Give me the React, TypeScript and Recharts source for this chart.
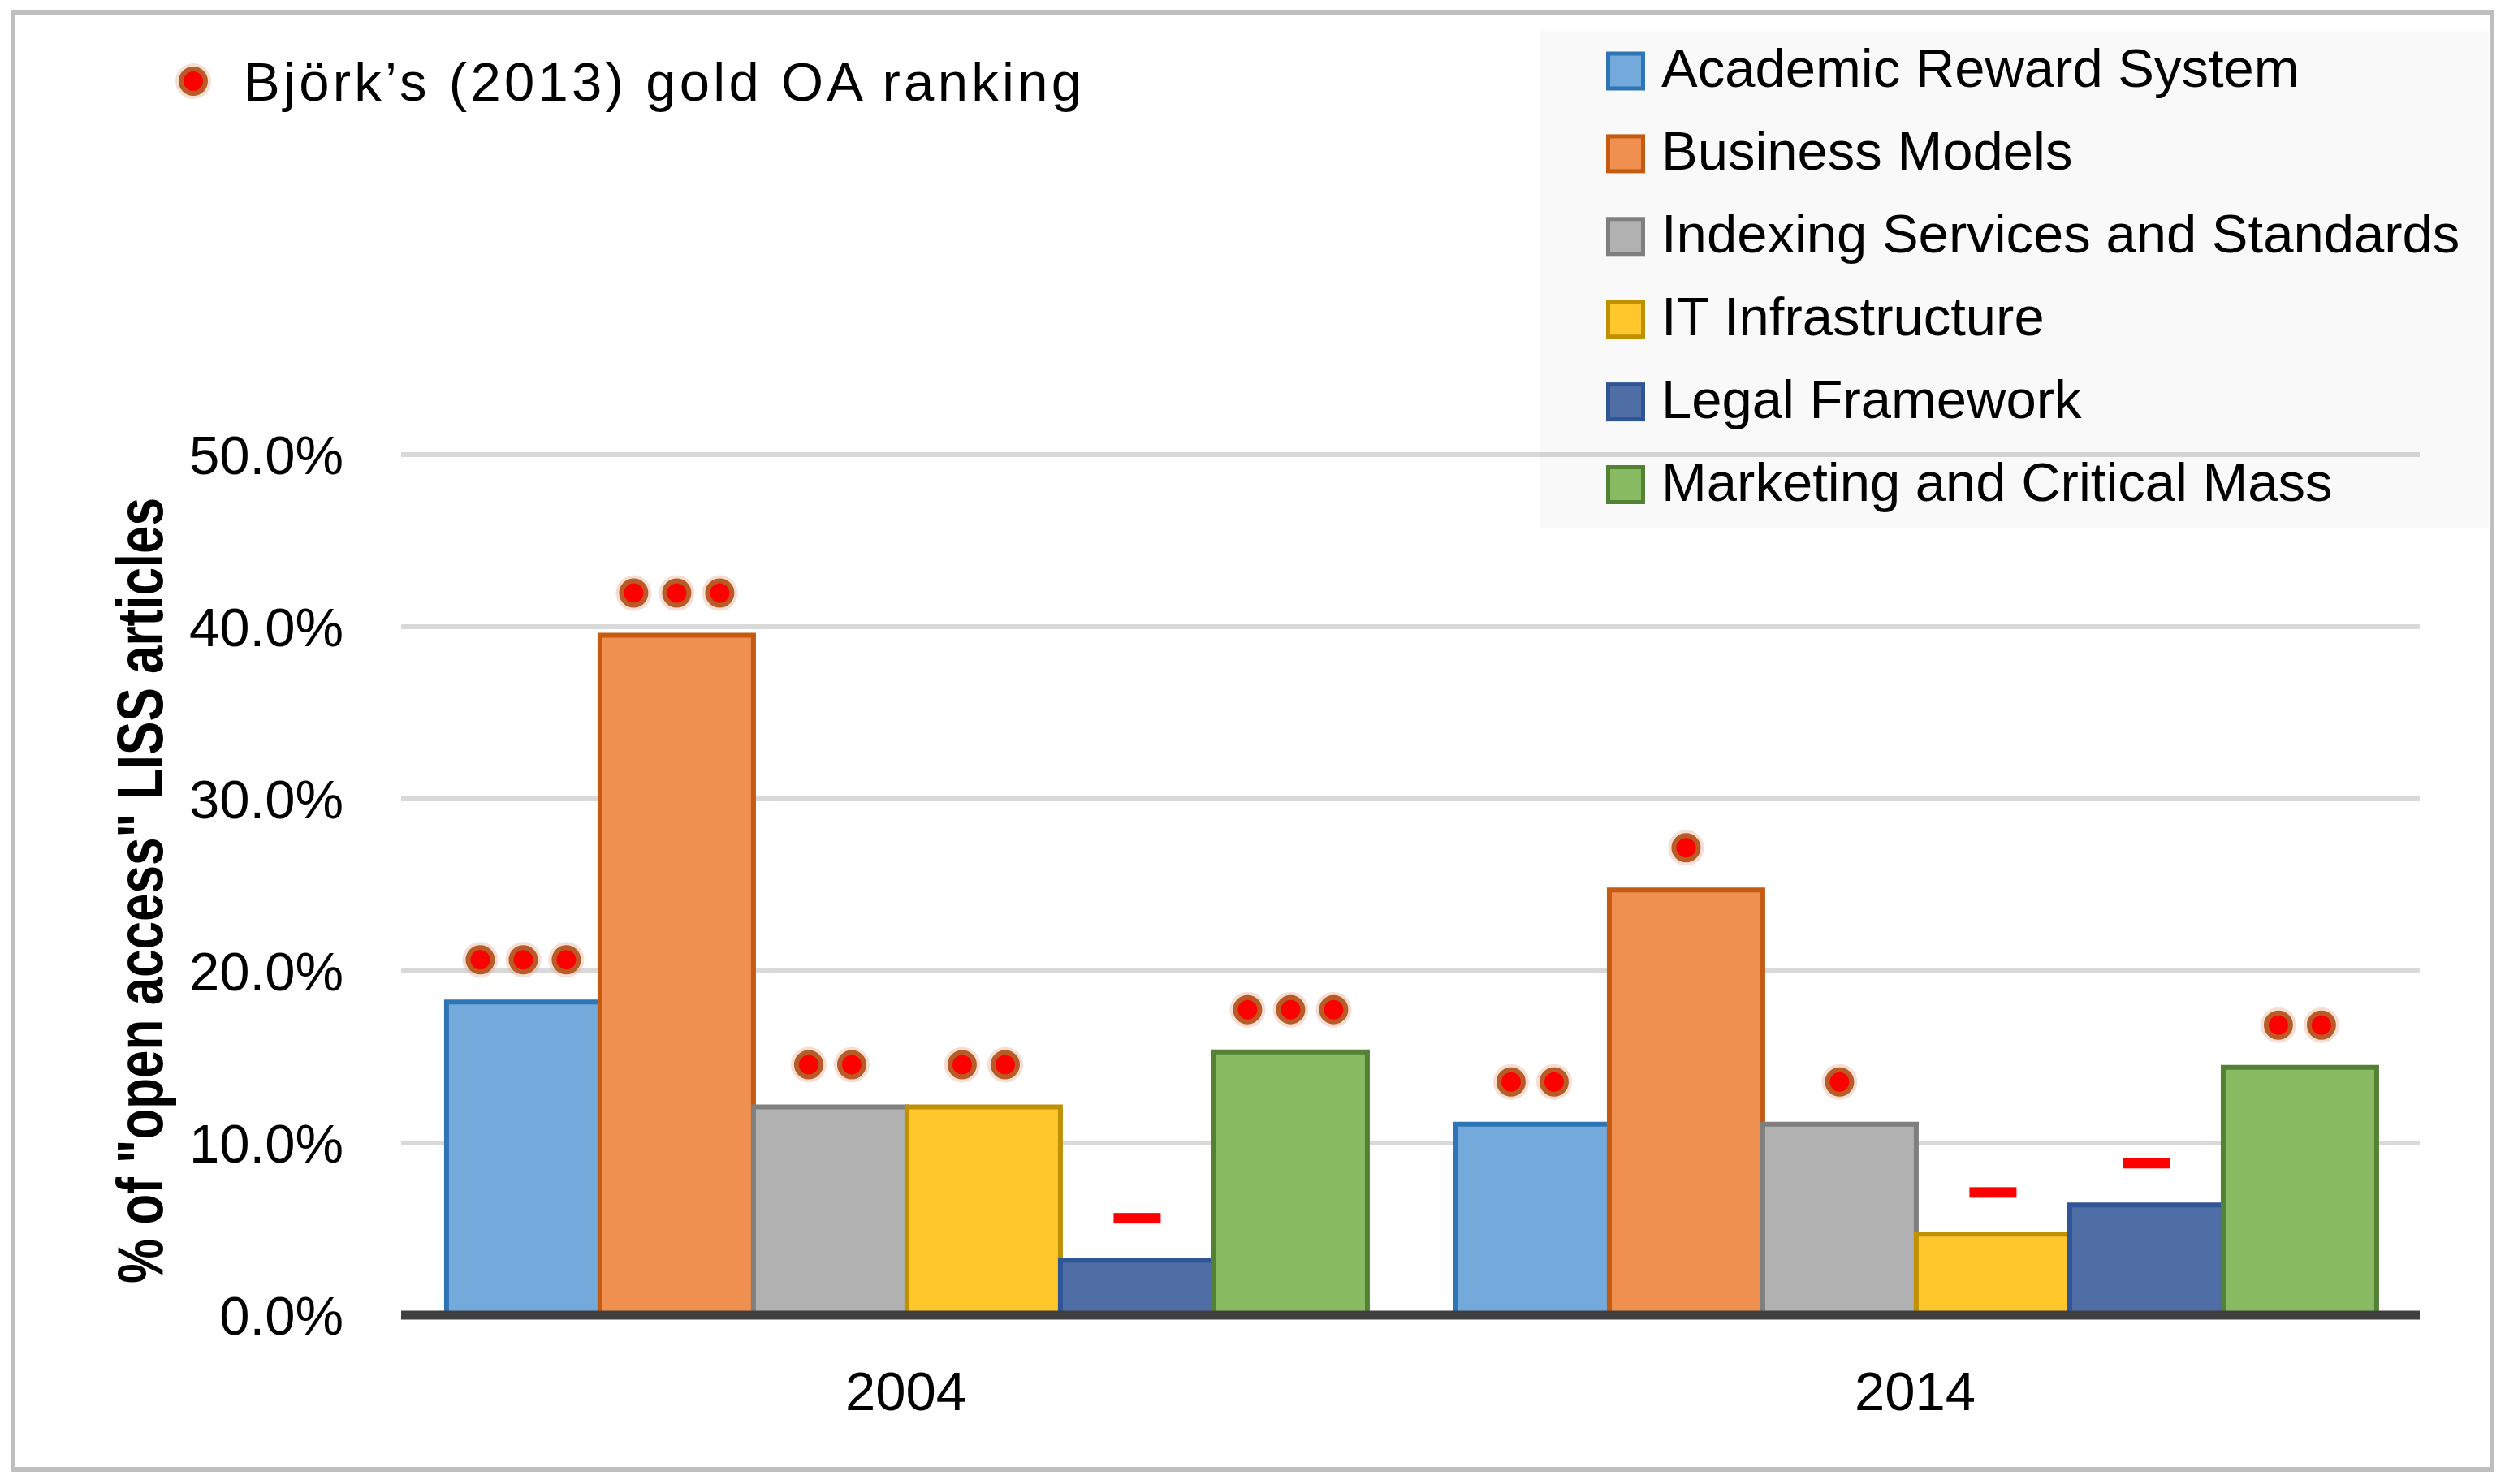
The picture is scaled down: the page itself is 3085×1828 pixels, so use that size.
import React from 'react';
import { BarChart, Bar, XAxis, YAxis, CartesianGrid, Legend, LabelList } from 'recharts';

const years = ['2004', '2014'];
const academicReward = [18.2, 11.1];
const businessModels = [39.5, 24.7];
const indexingServices = [12.1, 11.1];
const itInfrastructure = [12.1, 4.7];
const legalFramework = [3.2, 6.4];
const marketingMass = [15.3, 14.4];

// Björk (2013) gold OA ranking shown above each bar: number of dots, 0 = dash
const academicRank = [3, 2];
const businessRank = [3, 1];
const indexingRank = [2, 1];
const itRank = [2, 0];
const legalRank = [0, 0];
const marketingRank = [3, 2];

const yTicks = [0, 10, 20, 30, 40, 50];

const FONT = '"Liberation Sans", Arial, sans-serif';

const SERIES = [
  { key: 'academic', name: 'Academic Reward System', fill: '#74a9db', stroke: '#2e75b6' },
  { key: 'business', name: 'Business Models', fill: '#ef8f50', stroke: '#c55a11' },
  { key: 'indexing', name: 'Indexing Services and Standards', fill: '#b1b1b1', stroke: '#7f7f7f' },
  { key: 'it', name: 'IT Infrastructure', fill: '#ffc72c', stroke: '#bf9000' },
  { key: 'legal', name: 'Legal Framework', fill: '#4e6ea5', stroke: '#2f5597' },
  { key: 'marketing', name: 'Marketing and Critical Mass', fill: '#88ba62', stroke: '#548235' },
];

const data = years.map((year, i) => ({
  year,
  academic: academicReward[i],
  academicRank: academicRank[i],
  business: businessModels[i],
  businessRank: businessRank[i],
  indexing: indexingServices[i],
  indexingRank: indexingRank[i],
  it: itInfrastructure[i],
  itRank: itRank[i],
  legal: legalFramework[i],
  legalRank: legalRank[i],
  marketing: marketingMass[i],
  marketingRank: marketingRank[i],
}));

const Dot = ({ cx, cy }: { cx: number; cy: number }) => (
  <g>
    <circle cx={cx} cy={cy} r={22} fill="#e2a486" fillOpacity={0.35} />
    <circle cx={cx} cy={cy} r={15} fill="#ff0000" stroke="#b95b26" strokeWidth={6} />
  </g>
);

const RankMarks = (props: any) => {
  const { x, y, width, value } = props;
  const cx = Number(x) + Number(width) / 2;
  const cy = Number(y) - 52;
  const n = Number(value) || 0;
  if (n === 0) {
    return <rect x={cx - 29} y={cy - 6} width={58} height={13} fill="#ff0000" />;
  }
  return (
    <g>
      {Array.from({ length: n }, (_, i) => (
        <Dot key={i} cx={cx + (i - (n - 1) / 2) * 53} cy={cy} />
      ))}
    </g>
  );
};

const renderLegend = (props: any) => {
  const payload = props.payload || [];
  return (
    <svg width={3085} height={700} style={{ display: 'block', fontFamily: FONT }}>
      <Dot cx={238} cy={100} />
      <text x={300} y={124} fontSize={67} fill="#000" textLength={1032}>
        Björk’s (2013) gold OA ranking
      </text>
      <rect x={1896} y={38} width={1169} height={612} fill="#000" fillOpacity={0.025} />
      {payload.map((entry: any, i: number) => {
        let idx = SERIES.findIndex((s) => s.key === entry.dataKey);
        if (idx < 0) idx = i;
        const s = SERIES[idx];
        const cy = 87.5 + idx * 101.9;
        return (
          <g key={s.key}>
            <rect x={1980.5} y={cy - 21.5} width={43} height={43} fill={s.fill} stroke={s.stroke} strokeWidth={5} />
            <text x={2046} y={cy + 19.5} fontSize={67} fill="#000">
              {s.name}
            </text>
          </g>
        );
      })}
    </svg>
  );
};

const YTitle = (props: any) => {
  const vb = props.viewBox || { y: 560, height: 1060 };
  const cy = vb.y + vb.height / 2 + 7;
  return (
    <text
      x={200}
      y={cy}
      transform={`rotate(-90 200 ${cy})`}
      textAnchor="middle"
      fontSize={80}
      fontWeight="bold"
      fill="#000"
      textLength={968}
      lengthAdjust="spacingAndGlyphs"
    >
      % of "open access" LISS articles
    </text>
  );
};

export default function App() {
  return (
    <div style={{ position: 'absolute', left: 0, top: 0, width: 3085, height: 1828, background: '#fff' }}>
      <BarChart
        width={3085}
        height={1828}
        data={data}
        margin={{ top: 560, right: 105, bottom: 58, left: 0 }}
        barCategoryGap="4.5%"
        barGap={0}
        style={{ fontFamily: FONT }}
      >
        <CartesianGrid vertical={false} stroke="#d9d9d9" strokeWidth={6} />
        <XAxis
          dataKey="year"
          height={150}
          axisLine={{ stroke: '#404040', strokeWidth: 11 }}
          tickLine={false}
          tickSize={0}
          tickMargin={69}
          tick={{ fontSize: 67, fill: '#000' }}
        />
        <YAxis
          width={494}
          domain={[0, 50]}
          ticks={yTicks}
          axisLine={false}
          tickLine={false}
          tickSize={0}
          tickMargin={71}
          tick={{ fontSize: 67, fill: '#000' }}
          tickFormatter={(v: number) => `${v.toFixed(1)}%`}
          label={{ content: YTitle }}
        />
        <Legend
          layout="vertical"
          align="center"
          verticalAlign="middle"
          wrapperStyle={{ left: 0, top: 0, width: 3085, height: 700 }}
          content={renderLegend}
        />
        {SERIES.map((s) => (
          <Bar
            key={s.key}
            dataKey={s.key}
            name={s.name}
            fill={s.fill}
            stroke={s.stroke}
            strokeWidth={6}
            isAnimationActive={false}
          >
            <LabelList dataKey={`${s.key}Rank`} content={RankMarks} />
          </Bar>
        ))}
      </BarChart>
      <div
        style={{
          position: 'absolute',
          left: 13,
          top: 12,
          width: 3059,
          height: 1801,
          boxSizing: 'border-box',
          border: '6px solid #bfbfbf',
          pointerEvents: 'none',
        }}
      />
    </div>
  );
}
